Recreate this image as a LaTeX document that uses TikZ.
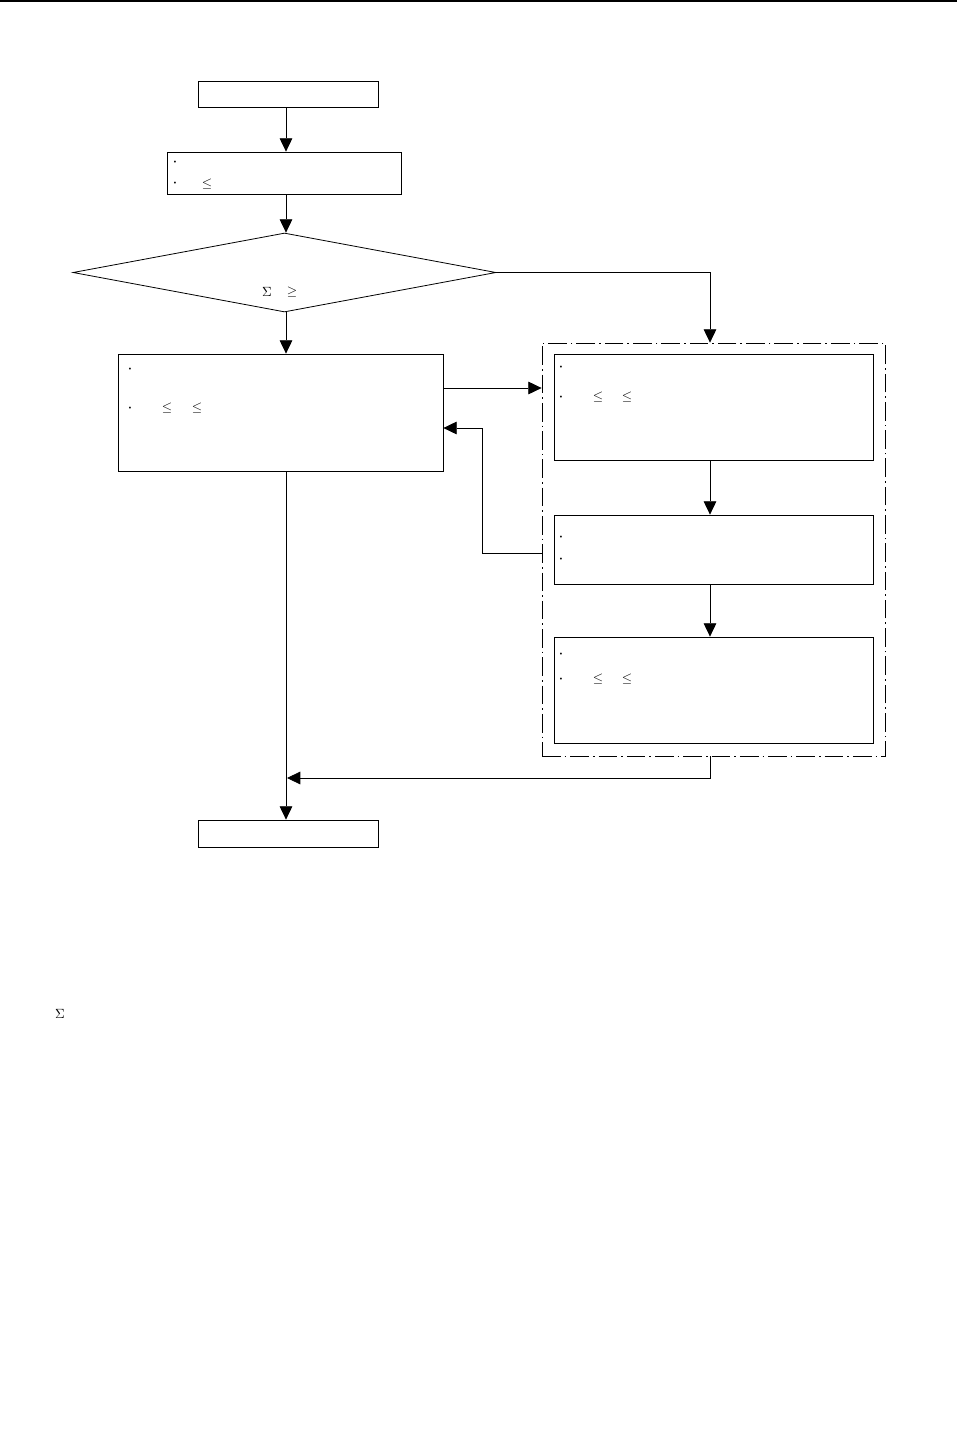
\documentclass[tikz,border=0pt]{standalone}
\usetikzlibrary{shapes.geometric,arrows.meta,calc}
\begin{document}
\begin{tikzpicture}[x=0.75pt,y=-0.75pt,
  box/.style={draw,line width=0.6pt,rectangle,inner sep=0pt},
  grpbox/.style={draw,line width=0.6pt,rectangle,inner sep=0pt,dash pattern=on 14pt off 3pt on 1.2pt off 3pt},
  conn/.style={line width=0.6pt},
  arr/.style={conn,-{Triangle[length=10pt,width=9.5pt]}},
  sym/.style={inner sep=0pt,font=\fontsize{10}{11}\selectfont},
  bul/.style={inner sep=0pt,font=\fontsize{5}{6}\selectfont}]
\useasboundingbox (0,0) rectangle (957,1456);
\draw[line width=1.8pt] (0,1) -- (957,1);
% nodes
\node[box,minimum width=135pt,minimum height=19.5pt] (start) at (288,94) {};
\node[box,minimum width=175.5pt,minimum height=31.5pt] (b2) at (284,173) {};
\node[draw,line width=0.6pt,diamond,inner sep=0pt,minimum width=317.25pt,minimum height=59.25pt] (dia) at (284.5,272.5) {};
\node[box,minimum width=243.75pt,minimum height=87.75pt] (b3) at (280.5,412.5) {};
\node[grpbox,minimum width=257.25pt,minimum height=309.75pt] (grp) at (713.5,549.5) {};
\node[box,minimum width=239.25pt,minimum height=79.5pt] (b4) at (713.5,407) {};
\node[box,minimum width=239.25pt,minimum height=51.75pt] (b5) at (713.5,549.5) {};
\node[box,minimum width=239.25pt,minimum height=79.5pt] (b6) at (713.5,690) {};
\node[box,minimum width=135pt,minimum height=20.25pt] (end) at (288,833.5) {};
\coordinate (lc) at (286,0);
\coordinate (rc) at (710,0);
% texts
\node[bul] (t1) at (175,162) {\textbullet};
\node[bul] (t2) at (175,183) {\textbullet};
\node[sym] (t3) at (207,184) {$\leq$};
\node[sym] (t4) at (267,292) {$\Sigma$};
\node[sym] (t5) at (292,292) {$\geq$};
\node[bul] (t6) at (130,369) {\textbullet};
\node[bul] (t7) at (130,408) {\textbullet};
\node[sym] (t8) at (167,408) {$\leq$};
\node[sym] (t9) at (197,408) {$\leq$};
\node[bul] (t10) at (561,367) {\textbullet};
\node[bul] (t11) at (561,397) {\textbullet};
\node[sym] (t12) at (598,397) {$\leq$};
\node[sym] (t13) at (627,397) {$\leq$};
\node[bul] (t14) at (561,537) {\textbullet};
\node[bul] (t15) at (561,559) {\textbullet};
\node[bul] (t16) at (561,654) {\textbullet};
\node[bul] (t17) at (561,679) {\textbullet};
\node[sym] (t18) at (598,679) {$\leq$};
\node[sym] (t19) at (627,679) {$\leq$};
\node[sym] (t20) at (60,1014) {$\Sigma$};
% connectors
\draw[arr] (start.south -| lc) -- (b2.north -| lc);
\draw[arr] (b2.south -| lc) -- (dia.north -| lc);
\draw[arr] (dia.south -| lc) -- (b3.north -| lc);
\draw[arr] (dia.east) -| (grp.north -| rc);
\draw[arr] (b3.east |- 0,388) -- (grp.west |- 0,388);
\draw[arr] (grp.west |- 0,553) -- (482,553) |- (b3.east |- 0,428);
\draw[arr] (b4.south -| rc) -- (b5.north -| rc);
\draw[arr] (b5.south -| rc) -- (b6.north -| rc);
\draw[arr] (grp.south -| rc) |- (287,778);
\draw[arr] (b3.south -| lc) -- (end.north -| lc);
\end{tikzpicture}
\end{document}
